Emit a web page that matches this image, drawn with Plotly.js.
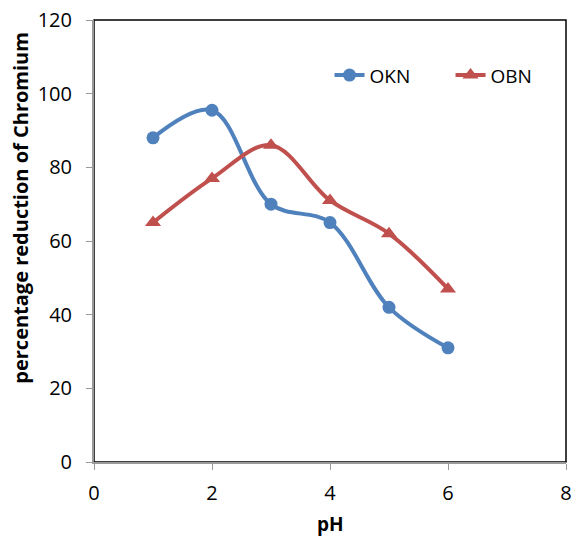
<!DOCTYPE html>
<html><head><meta charset="utf-8">
<script src="https://cdn.plot.ly/plotly-3.0.1.min.js"></script>
<style>body{margin:0;padding:0;background:#fff}#chart{width:574px;height:538px}</style>
</head><body><div id="chart"></div>
<script>
const pH = [1, 2, 3, 4, 5, 6];
const okn = [88, 95.5, 70, 65, 42, 31];
const obn = [65, 77, 86, 71, 62, 47];
const xTicks = [0, 2, 4, 6, 8];
const yTicks = [0, 20, 40, 60, 80, 100, 120];

const fontFam = '"Open Sans", sans-serif';
const traces = [
  {x: pH, y: okn, name: 'OKN', mode: 'lines+markers', type: 'scatter',
   line: {color: '#4F81BD', width: 4, shape: 'spline', smoothing: 1},
   marker: {symbol: 'circle', size: 13, color: '#4F81BD'}},
  {x: pH, y: obn, name: 'OBN', mode: 'lines+markers', type: 'scatter',
   line: {color: '#C0504D', width: 4, shape: 'spline', smoothing: 1},
   marker: {symbol: 'triangle-up', size: 14, color: '#C0504D'}}
];
const layout = {
  width: 574, height: 538,
  margin: {l: 94, r: 8, t: 20, b: 76, autoexpand: false},
  paper_bgcolor: '#fff', plot_bgcolor: '#fff',
  font: {family: fontFam, color: '#000', size: 20},
  showlegend: true,
  legend: {orientation: 'h', x: 0.499, y: 0.875, xanchor: 'left', yanchor: 'middle',
           font: {size: 19, family: fontFam}, bgcolor: 'rgba(0,0,0,0)',
           entrywidth: 76, entrywidthmode: 'pixels'},
  xaxis: {range: [0, 8], tickvals: xTicks, ticktext: xTicks.map(String),
          showgrid: false, zeroline: false, showline: true, linecolor: '#999', linewidth: 2,
          ticks: 'outside', ticklen: 6, tickcolor: '#999', tickwidth: 1,
          ticklabelstandoff: 6, tickfont: {size: 20}, automargin: false},
  yaxis: {range: [0, 120], tickvals: yTicks, ticktext: yTicks.map(String),
          showgrid: false, zeroline: false, showline: true, linecolor: '#999', linewidth: 2,
          ticks: 'outside', ticklen: 6, tickcolor: '#999', tickwidth: 1,
          ticklabelstandoff: 10, tickfont: {size: 20}, automargin: false},
  annotations: [
    {text: '<b>percentage reduction of Chromium</b>', xref: 'paper', yref: 'paper',
     x: -0.155, y: 0.575, xanchor: 'center', yanchor: 'middle', textangle: -90,
     showarrow: false, font: {size: 20, family: fontFam}},
    {text: '<b>pH</b>', xref: 'paper', yref: 'paper', x: 0.5, y: -0.14,
     xanchor: 'center', yanchor: 'middle', showarrow: false, font: {size: 19, family: fontFam}}
  ],
  shapes: [{type: 'rect', xref: 'paper', yref: 'paper', x0: 0, x1: 1, y0: 0, y1: 1,
            line: {color: '#000', width: 1.5}, layer: 'below'}]
};
Plotly.newPlot('chart', traces, layout, {displayModeBar: false, staticPlot: true});
</script></body></html>
